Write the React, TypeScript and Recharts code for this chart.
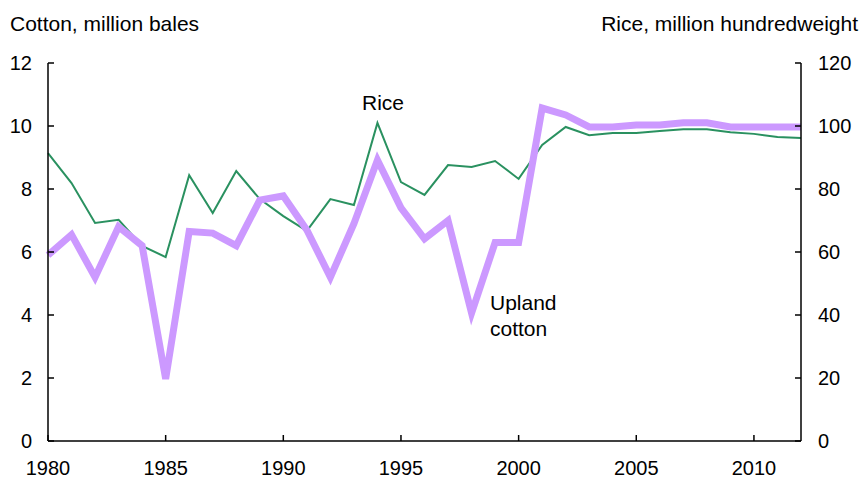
import { LineChart, Line, XAxis, YAxis } from 'recharts'

const years = [
  1980, 1981, 1982, 1983, 1984, 1985, 1986, 1987, 1988, 1989, 1990,
  1991, 1992, 1993, 1994, 1995, 1996, 1997, 1998, 1999, 2000,
  2001, 2002, 2003, 2004, 2005, 2006, 2007, 2008, 2009, 2010, 2011, 2012,
]

// Upland cotton, million bales (left axis)
const cotton = [
  5.9, 6.55, 5.2, 6.8, 6.2, 1.97, 6.65, 6.6, 6.2, 7.65, 7.78,
  6.7, 5.2, 6.9, 8.92, 7.4, 6.42, 7.0, 4.06, 6.3, 6.3,
  10.57, 10.35, 9.97, 9.97, 10.03, 10.03, 10.1, 10.1, 9.97, 9.97, 9.97, 9.97,
]

// Rice, million hundredweight (right axis)
const rice = [
  91.4, 81.9, 69.2, 70.2, 61.9, 58.4, 84.4, 72.4, 85.7, 76.8, 71.4,
  66.7, 76.8, 74.9, 101, 82.2, 78.1, 87.6, 87.0, 88.9, 83.2,
  94.0, 99.7, 97.1, 97.8, 97.8, 98.4, 99.0, 99.0, 98.0, 97.5, 96.5, 96.2,
]

const xTicks = [1980, 1985, 1990, 1995, 2000, 2005, 2010]
const leftTicks = [0, 2, 4, 6, 8, 10, 12]
const rightTicks = [0, 20, 40, 60, 80, 100, 120]

const data = years.map((year, i) => ({ year, cotton: cotton[i], rice: rice[i] }))

const font = '"Liberation Sans", Arial, sans-serif'
const tickStyle = { fill: '#000', fontSize: 20, fontFamily: font }
const axisLine = { stroke: '#000', strokeWidth: 1.5 }

export default function App() {
  return (
    <div style={{ position: 'absolute', left: 0, top: 0, width: 868, height: 480 }}>
      <LineChart
        width={868}
        height={480}
        data={data}
        margin={{ top: 63, right: 0, bottom: 0, left: 0 }}
      >
        <XAxis
          dataKey="year"
          type="number"
          domain={[1980, 2012]}
          ticks={xTicks}
          height={39}
          tick={tickStyle}
          axisLine={axisLine}
          tickLine={axisLine}
          tickSize={-6}
          tickMargin={26}
          interval={0}
        />
        <YAxis
          yAxisId="left"
          domain={[0, 12]}
          ticks={leftTicks}
          width={48}
          tick={tickStyle}
          axisLine={axisLine}
          tickLine={axisLine}
          tickSize={-6}
          tickMargin={22}
          interval={0}
        />
        <YAxis
          yAxisId="right"
          orientation="right"
          domain={[0, 120]}
          ticks={rightTicks}
          width={67}
          tick={{ ...tickStyle, textAnchor: 'start' }}
          axisLine={axisLine}
          tickLine={axisLine}
          tickSize={-6}
          tickMargin={23}
          interval={0}
        />
        <Line
          yAxisId="right"
          dataKey="rice"
          stroke="#2a9160"
          strokeWidth={2}
          dot={false}
          isAnimationActive={false}
        />
        <Line
          yAxisId="left"
          dataKey="cotton"
          stroke="#cc99ff"
          strokeWidth={7}
          dot={false}
          isAnimationActive={false}
        />
        <text x={10} y={31} fontSize={21} fontFamily={font} fill="#000">
          Cotton, million bales
        </text>
        <text x={858} y={31} fontSize={21} fontFamily={font} fill="#000" textAnchor="end">
          Rice, million hundredweight
        </text>
        <text x={362} y={110} fontSize={21} fontFamily={font} fill="#000">
          Rice
        </text>
        <text x={490} y={310} fontSize={21} fontFamily={font} fill="#000">
          Upland
        </text>
        <text x={490} y={336} fontSize={21} fontFamily={font} fill="#000">
          cotton
        </text>
      </LineChart>
    </div>
  )
}
